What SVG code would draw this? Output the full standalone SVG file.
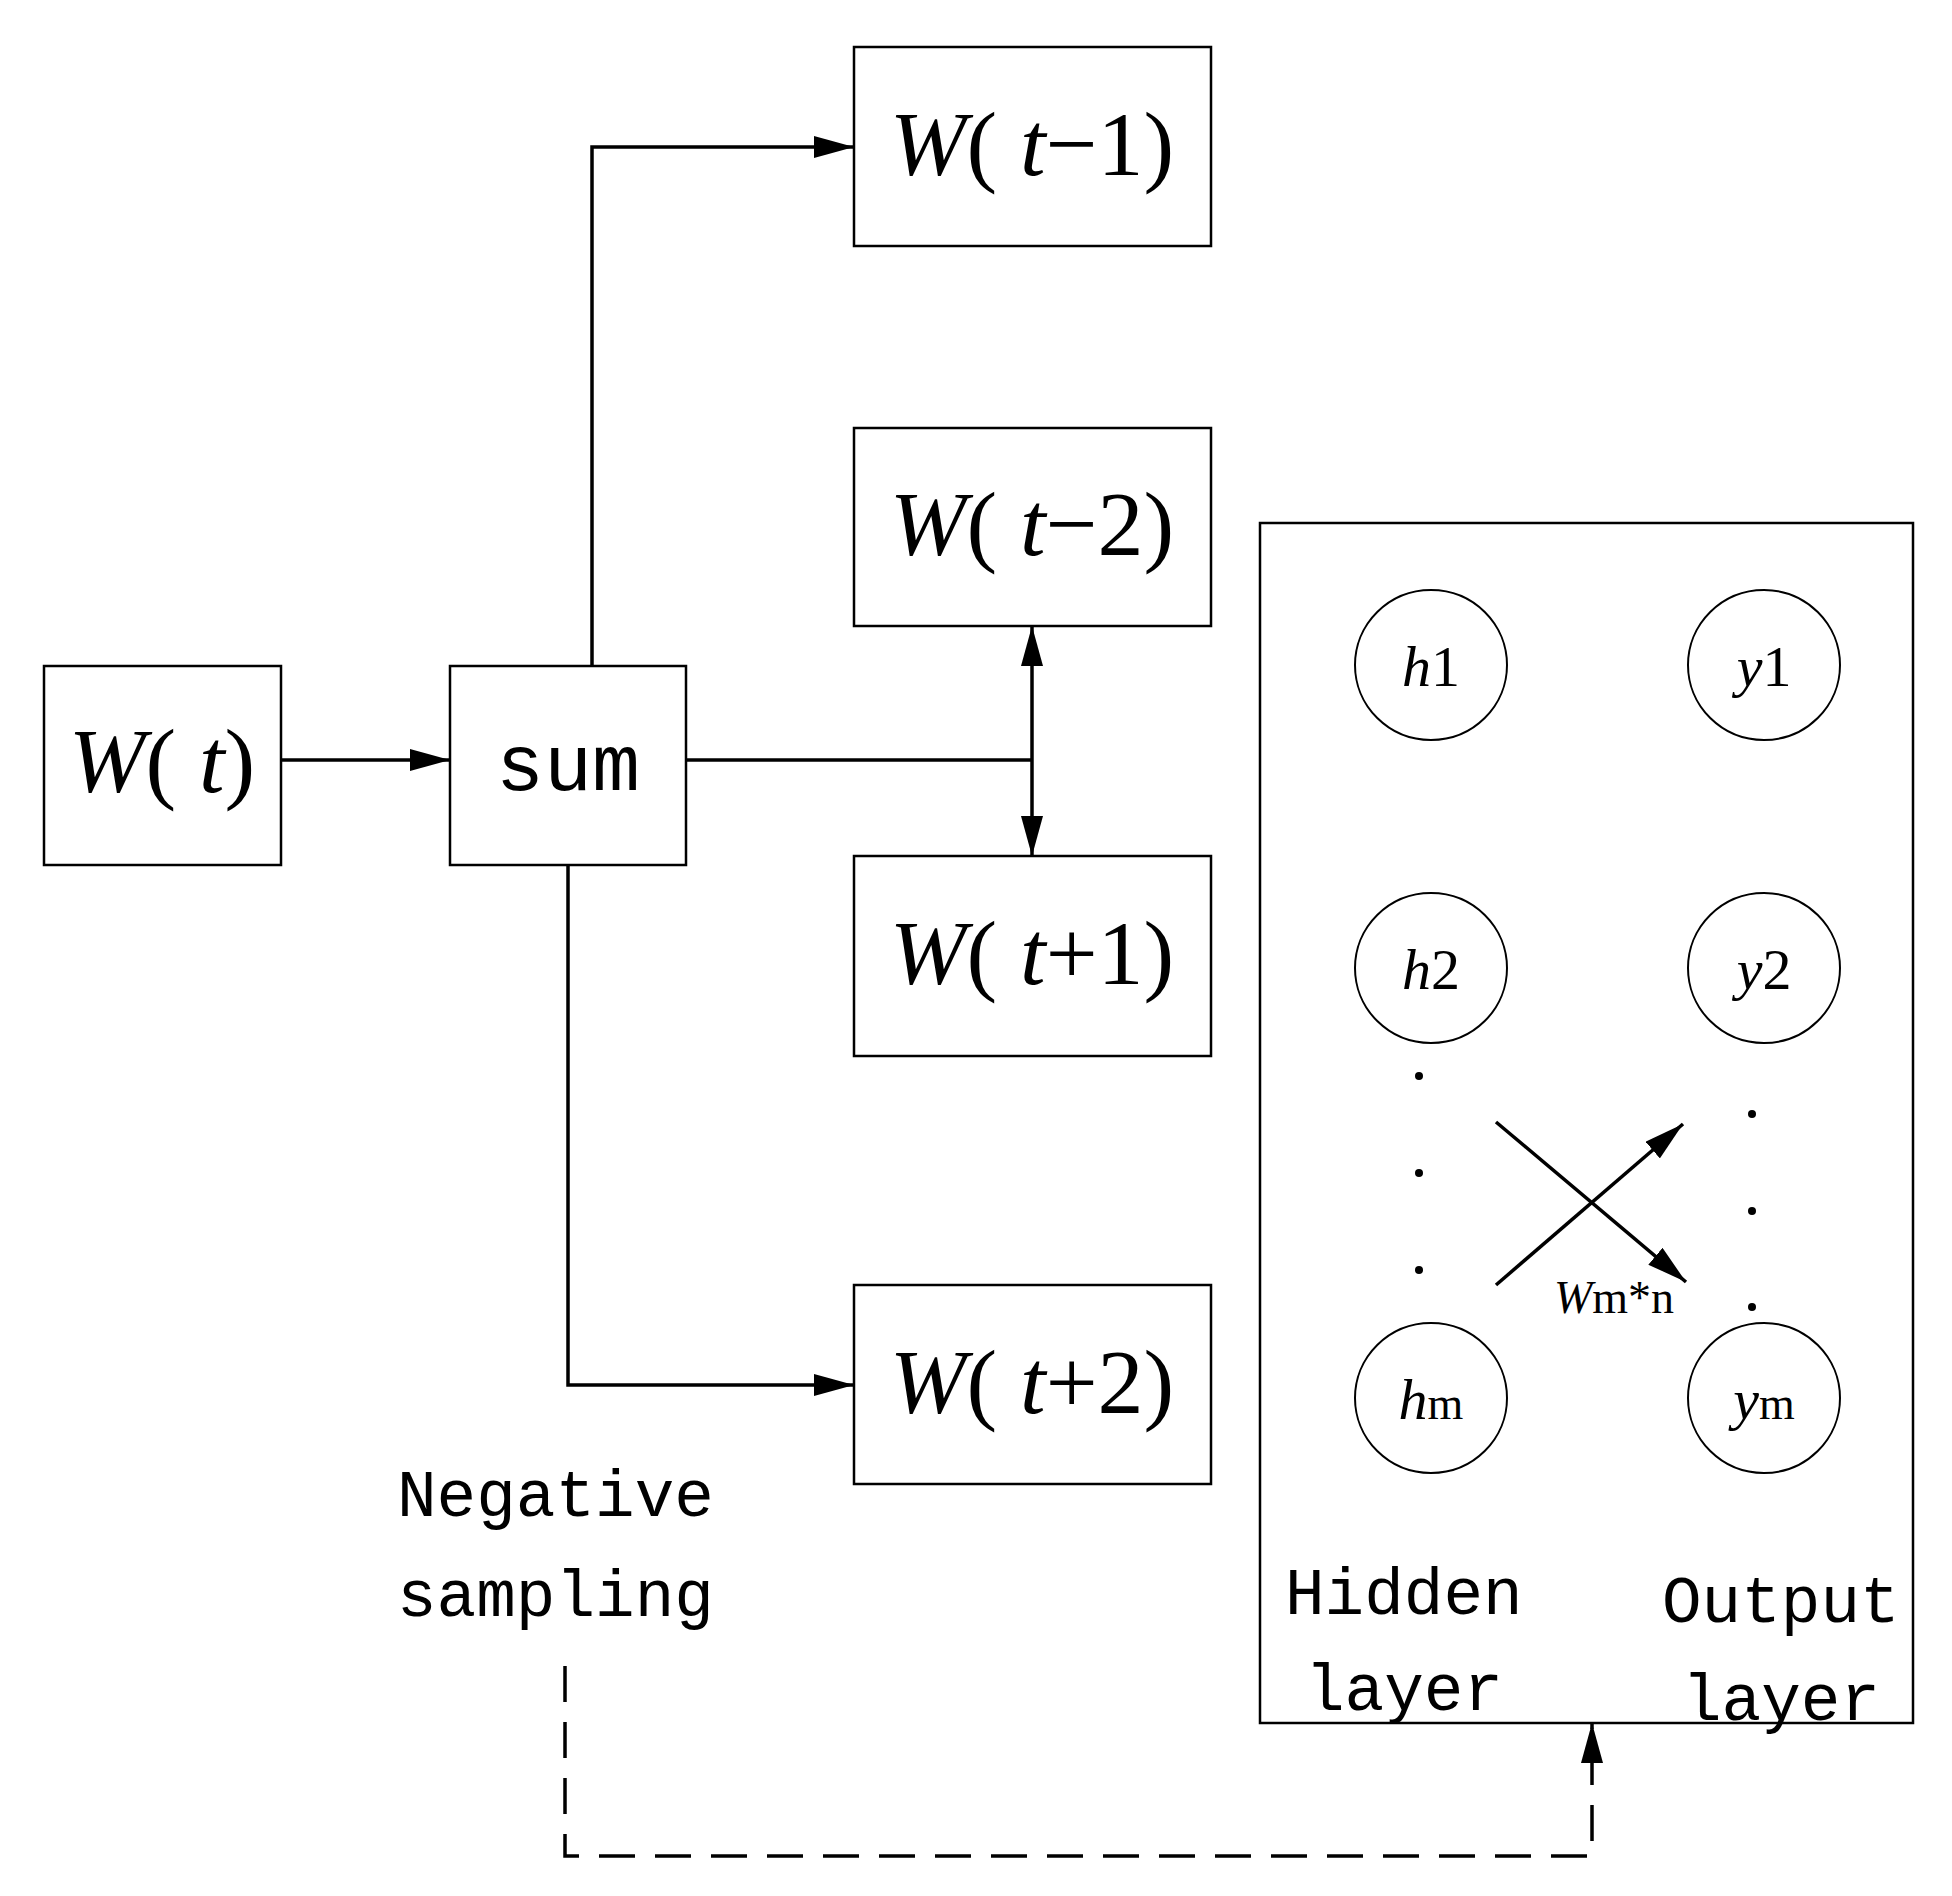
<svg xmlns="http://www.w3.org/2000/svg" width="1952" height="1896" viewBox="0 0 1952 1896">
<style>
.box{fill:#fff;stroke:#000;stroke-width:2.5}
.ln{fill:none;stroke:#000;stroke-width:3.5}
.lb{font-family:"Liberation Serif",serif;font-size:92px;text-anchor:middle}
.it{font-style:italic}
.mono{font-family:"Liberation Mono",monospace;font-size:66px}
.cl{font-family:"Liberation Serif",serif;font-size:58px;text-anchor:middle}
</style>
<defs>
<marker id="ar2" viewBox="0 0 10 10" refX="10" refY="5" markerWidth="40" markerHeight="22" markerUnits="userSpaceOnUse" orient="auto" preserveAspectRatio="none"><path d="M0,0L10,5L0,10z"/></marker>
</defs>
<rect width="1952" height="1896" fill="#fff"/>
<g id="nodes-bg">
<rect class="box" x="1260" y="523" width="653" height="1200"/>
</g>
<g id="connectors">
<path class="ln" d="M281,760H450" marker-end="url(#ar2)"/>
<path class="ln" d="M592,666V147H854" marker-end="url(#ar2)"/>
<path class="ln" d="M686,760H1032"/>
<path class="ln" d="M1032,760V626" marker-end="url(#ar2)"/>
<path class="ln" d="M1032,760V856" marker-end="url(#ar2)"/>
<path class="ln" d="M568,865V1385H854" marker-end="url(#ar2)"/>
<path class="ln" d="M565,1666V1856H1592V1723" stroke-width="4" stroke-dasharray="36,20" marker-end="url(#ar2)"/>
<path class="ln" d="M1496,1285L1683,1124" marker-end="url(#ar2)"/>
<path class="ln" d="M1496,1122L1686,1282" marker-end="url(#ar2)"/>
</g>
<g id="wt"><rect class="box" x="44" y="666" width="237" height="199"/><text class="lb" x="162" y="792"><tspan class="it">W</tspan>( <tspan class="it">t</tspan>)</text></g>
<g id="sum"><rect class="box" x="450" y="666" width="236" height="199"/><text x="568" y="790" font-family="Liberation Mono,monospace" font-size="80" text-anchor="middle">sum</text></g>
<g id="wtm1"><rect class="box" x="854" y="47" width="357" height="199"/><text class="lb" x="1032" y="175"><tspan class="it">W</tspan>( <tspan class="it">t</tspan>−1)</text></g>
<g id="wtm2"><rect class="box" x="854" y="428" width="357" height="198"/><text class="lb" x="1032" y="555"><tspan class="it">W</tspan>( <tspan class="it">t</tspan>−2)</text></g>
<g id="wtp1"><rect class="box" x="854" y="856" width="357" height="200"/><text class="lb" x="1032" y="984"><tspan class="it">W</tspan>( <tspan class="it">t</tspan>+1)</text></g>
<g id="wtp2"><rect class="box" x="854" y="1285" width="357" height="199"/><text class="lb" x="1032" y="1413"><tspan class="it">W</tspan>( <tspan class="it">t</tspan>+2)</text></g>
<g id="neg"><text class="mono" x="397" y="1516">Negative</text><text class="mono" x="397" y="1616">sampling</text></g>
<g id="net">
<g fill="#fff" stroke="#000" stroke-width="2">
<ellipse cx="1431" cy="665" rx="76" ry="75"/><ellipse cx="1764" cy="665" rx="76" ry="75"/>
<ellipse cx="1431" cy="968" rx="76" ry="75"/><ellipse cx="1764" cy="968" rx="76" ry="75"/>
<ellipse cx="1431" cy="1398" rx="76" ry="75"/><ellipse cx="1764" cy="1398" rx="76" ry="75"/>
</g>
<g fill="#000"><circle cx="1419" cy="1076" r="4"/><circle cx="1419" cy="1173" r="4"/><circle cx="1419" cy="1270" r="4"/><circle cx="1752" cy="1114" r="4"/><circle cx="1752" cy="1211" r="4"/><circle cx="1752" cy="1307" r="4"/></g>
<text class="cl" x="1431" y="686"><tspan class="it">h</tspan>1</text>
<text class="cl" x="1764" y="686"><tspan class="it">y</tspan>1</text>
<text class="cl" x="1431" y="989"><tspan class="it">h</tspan>2</text>
<text class="cl" x="1764" y="989"><tspan class="it">y</tspan>2</text>
<text class="cl" x="1431" y="1419"><tspan class="it">h</tspan><tspan font-size="46">m</tspan></text>
<text class="cl" x="1764" y="1419"><tspan class="it">y</tspan><tspan font-size="46">m</tspan></text>
<text x="1554" y="1313" font-family="Liberation Serif,serif" font-size="46"><tspan class="it">W</tspan>m*n</text>
<text class="mono" x="1285" y="1614">Hidden</text><text class="mono" x="1305" y="1710">layer</text>
<text class="mono" x="1662" y="1622">Output</text><text class="mono" x="1682" y="1720">layer</text>
</g>
</svg>
